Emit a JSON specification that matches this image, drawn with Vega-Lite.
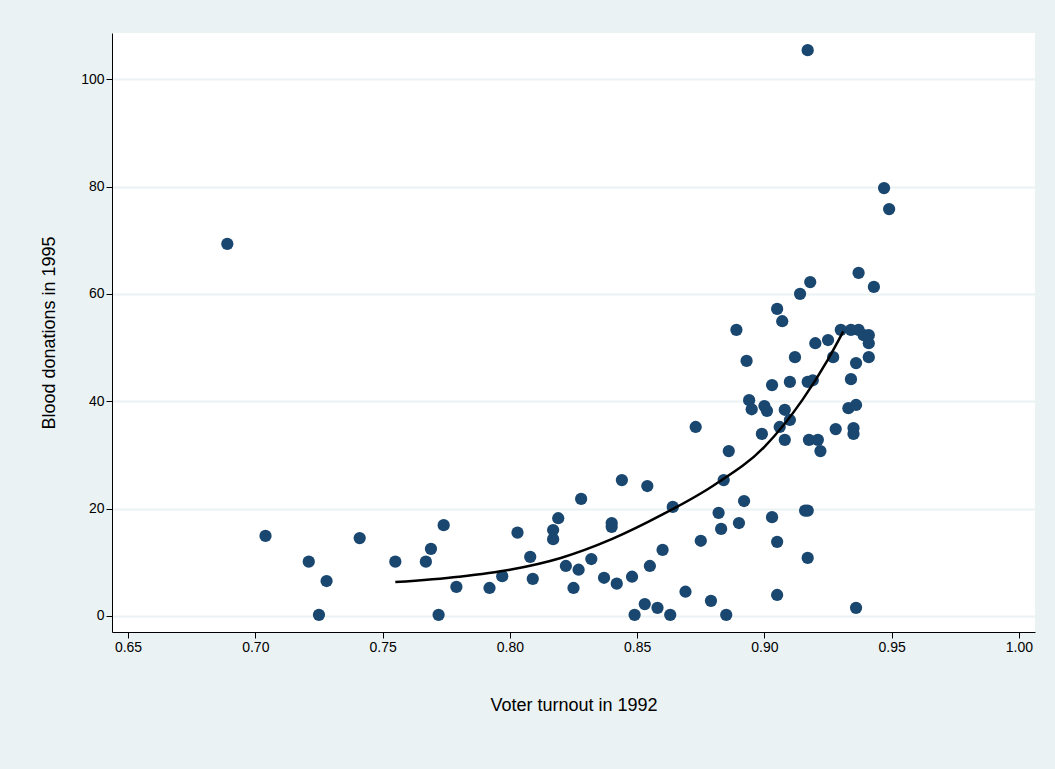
{
"$schema":"https://vega.github.io/schema/vega-lite/v6.json",
"autosize":"none","width":923,"height":599,
"padding":{"left":112,"top":33,"right":20,"bottom":137},
"background":"#eaf2f3",
"config":{"view":{"fill":"white","stroke":null},"font":"Liberation Sans"},
"datasets":{
"pts":[[0.689,69.3],[0.704,14.9],[0.721,10.1],[0.725,0.2],[0.728,6.5],[0.741,14.5],[0.755,10.1],[0.767,10.1],[0.769,12.5],[0.772,0.2],[0.774,16.9],[0.779,5.4],[0.792,5.2],[0.797,7.4],[0.803,15.5],[0.808,11.0],[0.809,6.9],[0.817,16.0],[0.817,14.3],[0.819,18.2],[0.822,9.3],[0.825,5.2],[0.827,8.6],[0.828,21.8],[0.832,10.6],[0.837,7.1],[0.840,17.3],[0.840,16.6],[0.842,6.0],[0.844,25.3],[0.848,7.3],[0.849,0.2],[0.853,2.2],[0.854,24.2],[0.855,9.3],[0.858,1.5],[0.860,12.3],[0.863,0.2],[0.864,20.3],[0.869,4.5],[0.873,35.2],[0.875,14.0],[0.879,2.8],[0.882,19.2],[0.883,16.2],[0.884,25.3],[0.885,0.2],[0.886,30.7],[0.889,53.3],[0.890,17.3],[0.892,21.4],[0.893,47.5],[0.894,40.2],[0.895,38.5],[0.899,33.9],[0.900,39.1],[0.901,38.2],[0.903,18.4],[0.903,43.0],[0.905,57.2],[0.905,13.8],[0.905,3.9],[0.906,35.2],[0.907,54.9],[0.908,38.4],[0.908,32.8],[0.910,36.5],[0.910,43.6],[0.912,48.2],[0.914,60.0],[0.916,19.6],[0.917,19.6],[0.917,43.6],[0.917,105.4],[0.9175,32.8],[0.917,10.8],[0.918,62.2],[0.919,43.9],[0.920,50.8],[0.921,32.8],[0.922,30.7],[0.925,51.4],[0.927,48.2],[0.928,34.8],[0.930,53.3],[0.933,38.7],[0.934,44.1],[0.934,53.3],[0.935,35.0],[0.935,33.9],[0.936,47.1],[0.936,39.3],[0.936,1.5],[0.937,63.9],[0.937,53.3],[0.939,52.3],[0.941,52.3],[0.941,50.8],[0.941,48.2],[0.943,61.3],[0.947,79.7],[0.949,75.8]],
"fit":[{"x":0.755,"y":6.3},{"x":0.78,"y":7.3},{"x":0.80,"y":8.6},{"x":0.82,"y":10.8},{"x":0.84,"y":14.3},{"x":0.86,"y":18.9},{"x":0.88,"y":24.3},{"x":0.90,"y":31.5},{"x":0.915,"y":40.3},{"x":0.925,"y":47.8},{"x":0.931,"y":53}]
},
"layer":[
{"data":{"name":"pts"},"transform":[{"calculate":"datum[0]","as":"x"},{"calculate":"datum[1]","as":"y"}],
"mark":{"type":"circle","size":150,"opacity":1,"color":"#1a476f"},
"encoding":{
"x":{"field":"x","type":"quantitative","scale":{"domain":[0.6437,1.0063],"nice":false,"zero":false},
"axis":{"values":[0.65,0.7,0.75,0.8,0.85,0.9,0.95,1.0],"format":".2f","grid":false,"title":"Voter turnout in 1992","titleFontSize":18,"titleFontWeight":"normal","titlePadding":42,"labelFontSize":14,"domainColor":"black","tickColor":"black","labelColor":"black","titleColor":"black","tickSize":6}},
"y":{"field":"y","type":"quantitative","scale":{"domain":[-3,108.6],"nice":false,"zero":false},
"axis":{"values":[0,20,40,60,80,100],"grid":true,"gridColor":"#eaf2f3","gridWidth":2,"title":"Blood donations in 1995","titleFontSize":18,"titleFontWeight":"normal","titlePadding":22,"labelFontSize":14,"domainColor":"black","tickColor":"black","labelColor":"black","titleColor":"black","tickSize":6}}}},
{"data":{"name":"fit"},"mark":{"type":"line","color":"black","strokeWidth":2.5,"interpolate":"monotone"},
"encoding":{"x":{"field":"x","type":"quantitative"},"y":{"field":"y","type":"quantitative"}}}
]
}
